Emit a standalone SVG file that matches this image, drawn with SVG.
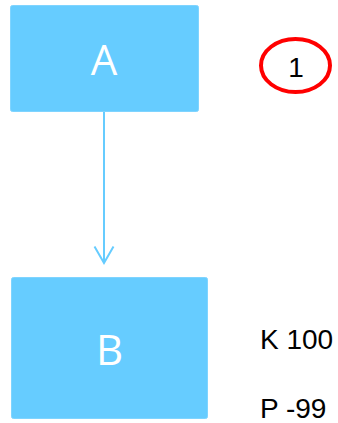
<svg xmlns="http://www.w3.org/2000/svg" width="338" height="423" viewBox="0 0 338 423">
  <style>
    .box { fill: #66ccff; stroke: #7fd4ff; stroke-width: 1; }
    .box-label { font-family: "Open Sans", "Noto Sans", sans-serif; font-size: 42px; fill: #ffffff; text-anchor: middle; }
    .note { font-family: "Liberation Sans", Arial, sans-serif; font-size: 28px; fill: #000000; }
    .edge { fill: none; stroke: #66ccff; stroke-width: 2; }
  </style>
  <rect width="338" height="423" fill="#ffffff"/>
  <g id="connectors">
    <line class="edge" x1="104" y1="111" x2="104" y2="263"/>
    <polyline class="edge" points="94.5,246.5 104,263 113.5,246.5"/>
  </g>
  <g id="node-A">
    <rect class="box" x="10.5" y="5.5" width="188" height="106" rx="2"/>
    <text class="box-label" x="104" y="75">A</text>
  </g>
  <g id="node-B">
    <rect class="box" x="11.5" y="277.5" width="196" height="141" rx="2"/>
    <text class="box-label" x="109.5" y="365">B</text>
  </g>
  <g id="badge-1">
    <ellipse cx="295.5" cy="65.5" rx="34.5" ry="26.5" fill="none" stroke="#ff0000" stroke-width="4"/>
    <text class="note" x="296" y="77" text-anchor="middle">1</text>
  </g>
  <g id="values">
    <text class="note" x="260" y="349">K 100</text>
    <text class="note" x="260" y="418">P -99</text>
  </g>
</svg>
